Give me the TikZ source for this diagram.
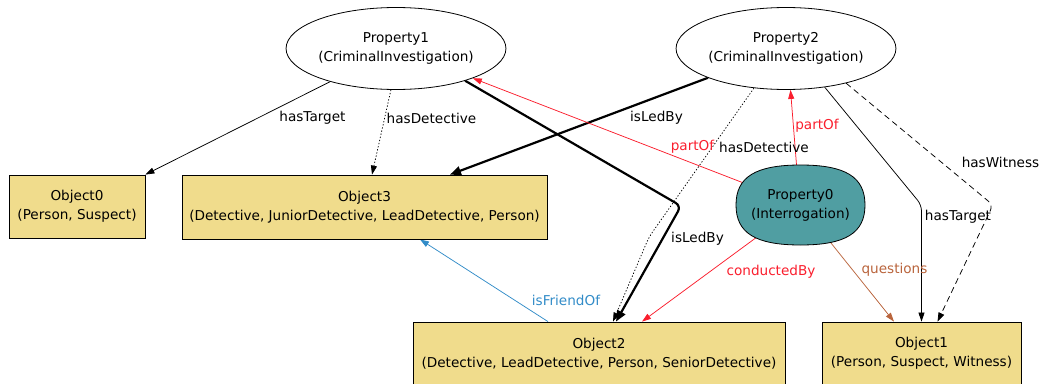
\documentclass[tikz,border=0pt]{standalone}
\usepackage{fontspec}
\setmainfont{DejaVu Sans}
\usetikzlibrary{arrows.meta,shapes.geometric}
\definecolor{boxfill}{RGB}{240,220,140}
\definecolor{tealfill}{RGB}{80,158,162}
\definecolor{relred}{RGB}{250,30,45}
\definecolor{relbrown}{RGB}{185,100,60}
\definecolor{relblue}{RGB}{50,140,200}
\pgfdeclarelayer{edges}
\pgfdeclarelayer{shapes}
\pgfsetlayers{edges,shapes,main}

\begin{document}
\begin{tikzpicture}[x=1pt,y=-1pt,
  every node/.style={font=\fontsize{13.6}{19}\selectfont, align=center, inner sep=0pt},
  prop/.style={ellipse, draw, line width=0.8pt, fill=white, minimum width=188pt, minimum height=82pt},
  interro/.style={ellipse, minimum width=129pt, minimum height=80pt},
  obj/.style={rectangle, draw, line width=0.8pt, fill=boxfill},
  rel/.style={line width=0.75pt, -{Triangle[length=9pt,width=6pt]}},
  strong/.style={line width=2.2pt, -{Triangle[length=11pt,width=9pt]}},
  dotline/.style={dash pattern=on 1.3pt off 1.9pt},
  dashline/.style={dash pattern=on 6pt off 4pt},
  lbl/.style={anchor=center}
]
\clip (0,0) rectangle (1041,383);

% classes and individuals
\node[prop] (P1) at (396,48.5) {Property1\\(CriminalInvestigation)};
\node[prop] (P2) at (786,48.5) {Property2\\(CriminalInvestigation)};
\node[interro] (P0) at (800.5,205) {Property0\\(Interrogation)};
\node[obj, minimum width=136pt, minimum height=63pt] (O0) at (77,206.5) {Object0\\(Person, Suspect)};
\node[obj, minimum width=365pt, minimum height=64pt] (O3) at (364.5,207) {Object3\\(Detective, JuniorDetective, LeadDetective, Person)};
\node[obj, minimum width=372pt, minimum height=63pt] (O2) at (599,353.5) {Object2\\(Detective, LeadDetective, Person, SeniorDetective)};
\node[obj, minimum width=199pt, minimum height=63pt] (O1) at (921.5,353.5) {Object1\\(Person, Suspect, Witness)};

% squarish oval body of the interrogation
\begin{pgfonlayer}{shapes}
\begin{scope}[shift={(P0.center)}]
\draw[line width=0.8pt, fill=tealfill]
  (-64.5,0) .. controls (-64.5,-28) and (-45,-40) .. (0,-40)
  .. controls (45,-40) and (64.5,-28) .. (64.5,0)
  .. controls (64.5,28) and (45,40) .. (0,40)
  .. controls (-45,40) and (-64.5,28) .. (-64.5,0) -- cycle;
\end{scope}
\end{pgfonlayer}

% bend points
\coordinate (k1) at (681,206);
\coordinate (k2) at (649,237);
\coordinate (k3) at (921.5,205);
\coordinate (k4) at (993,205);

\begin{pgfonlayer}{edges}
% relations of Property1
\draw[rel] (P1) -- (O0.north east);
\draw[rel, dotline] (P1.263) -- ([xshift=7.5pt]O3.north);
\draw[strong, rounded corners=6pt] (P1.335) -- (k1) -- ([xshift=17pt]O2.north);

% relations of Property2
\draw[strong] (P2) -- ([xshift=85.5pt]O3.north);
\draw[rel, dotline, rounded corners=6pt] (P2.231) -- (k2) -- ([xshift=14pt]O2.north);
\draw[rel, rounded corners=6pt] (P2.315) -- (k3) -- (O1.north);
\draw[rel, dashline, rounded corners=6pt] (P2.330) -- (k4) -- ([xshift=16pt]O1.north);

% relations of Property0
\draw[rel, relred] (P0) -- (P1);
\draw[rel, relred] ([xshift=-4pt]P0.north) -- ([xshift=4.5pt]P2.south);
\draw[rel, relred] (P0) -- ([xshift=43pt]O2.north);
\draw[rel, relbrown] (P0) -- ([xshift=-27.5pt]O1.north);

% relation between objects
\draw[rel, relblue] ([xshift=-51pt]O2.north) -- ([xshift=55.5pt]O3.south);
\end{pgfonlayer}

% edge labels
\node[lbl] (l1) at (312.5,118) {hasTarget};
\node[lbl] (l2) at (431.5,118) {hasDetective};
\node[lbl] (l3) at (656.5,118) {isLedBy};
\node[lbl, text=relred] (l4) at (692.5,147) {partOf};
\node[lbl] (l5) at (764,147) {hasDetective};
\node[lbl, text=relred] (l6) at (817,126) {partOf};
\node[lbl] (l7) at (1000.5,162) {hasWitness};
\node[lbl] (l8) at (958,217) {hasTarget};
\node[lbl] (l9) at (697.5,239) {isLedBy};
\node[lbl, text=relred] (l10) at (771,272) {conductedBy};
\node[lbl, text=relbrown] (l11) at (894.5,270) {questions};
\node[lbl, text=relblue] (l12) at (566,300) {isFriendOf};
\end{tikzpicture}
\end{document}
